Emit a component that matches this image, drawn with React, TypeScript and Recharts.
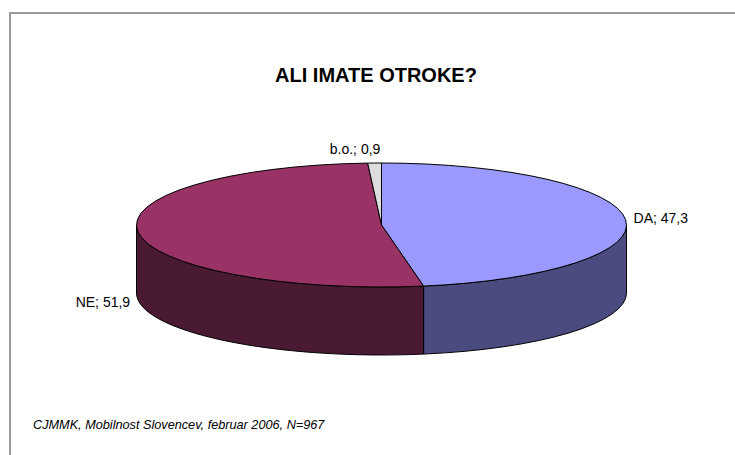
import { Pie, PieChart } from 'recharts'

const categories = ['DA', 'NE', 'b.o.']
const shares = [47.3, 51.9, 0.9]
const topColors = ['#9999FF', '#993366', '#DDDDDD']
const sideColors = ['#4B4B80', '#4A1A33', '#6E6E6E']

const data = categories.map((name, i) => ({
  name,
  value: shares[i],
  fill: topColors[i],
  side: sideColors[i],
}))

const RX = 245
const RY = 62
const DEPTH = 68
const RAD = Math.PI / 180

function ellipsePt(cx: number, cy: number, deg: number, dy = 0) {
  return `${cx + RX * Math.cos(deg * RAD)},${cy - RY * Math.sin(deg * RAD) + dy}`
}

// one slice of a tilted pie: the top face plus the visible front wall
function Slice3D(props: any) {
  const { cx, cy, startAngle, endAngle, fill, name } = props
  const idx = categories.indexOf(name)
  const side = props.payload?.side ?? sideColors[idx] ?? '#444'
  const hi = Math.max(startAngle, endAngle)
  const lo = Math.min(startAngle, endAngle)
  const large = hi - lo > 180 ? 1 : 0
  const top = `M${cx},${cy} L${ellipsePt(cx, cy, hi)} A${RX},${RY} 0 ${large} 1 ${ellipsePt(cx, cy, lo)} Z`

  const wHi = Math.min(hi, 0)
  const wLo = Math.max(lo, -180)
  let wall = null
  if (wHi > wLo) {
    const d =
      `M${ellipsePt(cx, cy, wHi)} A${RX},${RY} 0 0 1 ${ellipsePt(cx, cy, wLo)} ` +
      `L${ellipsePt(cx, cy, wLo, DEPTH)} A${RX},${RY} 0 0 0 ${ellipsePt(cx, cy, wHi, DEPTH)} Z`
    wall = <path d={d} fill={side} stroke="#000" strokeWidth={1} strokeLinejoin="round" />
  }
  return (
    <g>
      {wall}
      <path d={top} fill={fill} stroke="#000" strokeWidth={1} strokeLinejoin="round" />
    </g>
  )
}

function renderLabel(props: any) {
  const { cx, cy, midAngle, name, value } = props
  const c = Math.cos(midAngle * RAD)
  const s = Math.sin(midAngle * RAD)
  const x = cx + (RX + 8) * c
  let y = cy - (RY + 14) * s
  if (s < 0) y += DEPTH
  const anchor = c > 0.1 ? 'start' : c < -0.01 ? 'end' : 'middle'
  return (
    <text
      x={anchor === 'end' && c > -0.1 ? x + 6 : x}
      y={y}
      textAnchor={anchor}
      dominantBaseline="central"
      fontFamily="Arial, 'Liberation Sans', sans-serif"
      fontSize={14}
      fill="#000"
    >
      {`${name}; ${String(value).replace('.', ',')}`}
    </text>
  )
}

export default function App() {
  return (
    <div
      style={{
        position: 'fixed',
        left: 0,
        top: 0,
        width: 735,
        height: 455,
        overflow: 'hidden',
        background: '#fff',
        fontFamily: "Arial, 'Liberation Sans', sans-serif",
      }}
    >
      <div
        style={{
          position: 'absolute',
          left: 9,
          top: 12,
          width: 900,
          height: 700,
          border: '2px solid #9a9a9a',
          boxSizing: 'border-box',
        }}
      />
      <div
        style={{
          position: 'absolute',
          left: 0,
          width: 752,
          top: 63,
          textAlign: 'center',
          fontWeight: 'bold',
          fontSize: 20,
          lineHeight: '24px',
        }}
      >
        ALI IMATE OTROKE?
      </div>
      <div
        style={{
          position: 'absolute',
          left: 33,
          top: 417,
          fontStyle: 'italic',
          fontSize: 12.7,
          lineHeight: '16px',
        }}
      >
        CJMMK, Mobilnost Slovencev, februar 2006, N=967
      </div>
      <div style={{ position: 'absolute', left: 0, top: 0 }}>
        <PieChart width={735} height={455}>
          <Pie
            data={data}
            dataKey="value"
            nameKey="name"
            cx={376.5}
            cy={220}
            outerRadius={RX}
            startAngle={90}
            endAngle={-270}
            isAnimationActive={false}
            labelLine={false}
            label={renderLabel}
            shape={Slice3D}
            activeShape={Slice3D}
            inactiveShape={Slice3D}
          />
        </PieChart>
      </div>
    </div>
  )
}
